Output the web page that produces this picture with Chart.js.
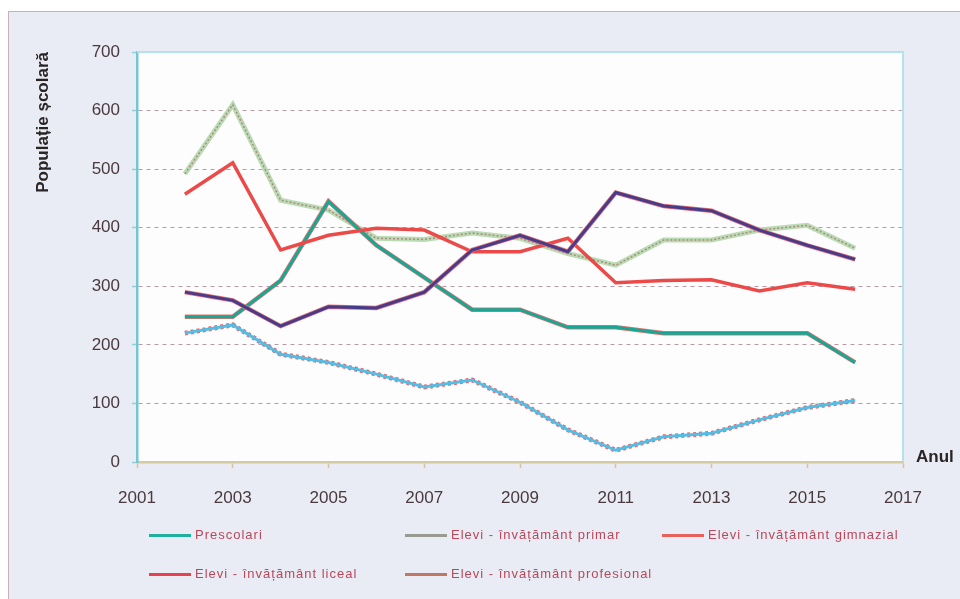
<!DOCTYPE html>
<html>
<head>
<meta charset="utf-8">
<script src="https://cdn.jsdelivr.net/npm/chart.js@4/dist/chart.umd.min.js"></script>
<style>
  html, body { margin: 0; padding: 0; background: #ffffff; }
  #wrap { position: relative; width: 960px; height: 599px; overflow: hidden; }
  #panel { position: absolute; left: 8px; top: 11px; width: 960px; height: 600px;
           background: #e9ecf4; border-left: 1px solid #c9b0b8; border-top: 1px solid #c9b0b8; }
  #c { position: absolute; left: 0; top: 0; }
  .leg { position: absolute; font-family: "Liberation Sans", Arial, sans-serif; font-size: 13px;
         letter-spacing: 1px; color: #b8485a; line-height: 14px; white-space: nowrap; }
  .leg i { position: absolute; left: 0; top: 6px; width: 42px; height: 3px; }
  .leg span { position: absolute; left: 46px; top: 0; }
</style>
</head>
<body>
<div id="wrap">
  <div id="panel"></div>
  <canvas id="c" width="960" height="599"></canvas>
  <div id="legend"></div>
</div>
<script>
const years = [2002,2003,2004,2005,2006,2007,2008,2009,2010,2011,2012,2013,2014,2015,2016];
const seriesNames = ["Prescolari","Elevi - învățământ primar","Elevi - învățământ gimnazial","Elevi - învățământ liceal","Elevi - învățământ profesional"];
const prescolari = [248,248,310,445,370,315,260,260,230,230,220,220,220,220,170];
const primar     = [492,610,447,430,382,380,391,382,356,336,379,379,396,404,365];
const gimnazial  = [220,234,184,170,150,128,140,102,55,20,43,49,72,93,105];
const liceal     = [457,511,362,387,399,396,359,359,382,306,310,311,292,306,295];
const profesional= [290,276,232,265,263,290,362,387,359,460,437,429,396,370,346];
const xTicks = [2001,2003,2005,2007,2009,2011,2013,2015,2017];
const yTicks = [0,100,200,300,400,500,600,700];
const yTitle = "Populație școlară";
const xTitle = "Anul";

const pts = arr => arr.map((v,i)=>({x: years[i], y: v}));
const legendColors = ["#1fb0a0","#9a9a92","#e8605c","#e8404c","#c07862"];

const bgPlugin = {
  id: 'bg',
  beforeDraw(chart) {
    const {ctx, chartArea: a} = chart;
    ctx.save();
    ctx.fillStyle = '#fdfdfd';
    ctx.fillRect(a.left, a.top, a.right - a.left, a.bottom - a.top);
    ctx.restore();
  },
  afterDraw(chart) {
    const {ctx, chartArea: a} = chart;
    ctx.save();
    ctx.strokeStyle = '#b4e2ea';
    ctx.lineWidth = 2;
    ctx.beginPath();
    ctx.moveTo(a.left, a.top);
    ctx.lineTo(a.right, a.top);
    ctx.lineTo(a.right, a.bottom);
    ctx.stroke();
    ctx.fillStyle = '#2a2426';
    ctx.font = 'bold 17px "Liberation Sans", Arial, sans-serif';
    ctx.textBaseline = 'middle';
    ctx.fillText(xTitle, 916, 457);
    ctx.restore();
  }
};

const ds = (data, color, width, extra) => Object.assign({
  data: pts(data), borderColor: color, borderWidth: width, pointRadius: 0,
  fill: false, tension: 0, borderJoinStyle: 'miter'
}, extra || {});

// first dataset in the list is drawn on top
new Chart(document.getElementById('c'), {
  type: 'line',
  data: {
    datasets: [
      ds(profesional, '#453c8c', 3, {label: seriesNames[4]}),
      ds(profesional, '#e86a70', 4.5, {label: seriesNames[4]+'_edge'}),
      ds(liceal, '#ec4a48', 3.5, {label: seriesNames[3]}),
      ds(prescolari, '#16a896', 3, {label: seriesNames[0]}),
      ds(prescolari, '#e8706a', 4.5, {label: seriesNames[0]+'_edge'}),
      ds(primar, 'rgba(176,120,116,0.85)', 1.5, {borderDash:[2,2], label: seriesNames[1]+'_dot'}),
      ds(primar, '#b9dcb4', 5, {label: seriesNames[1]}),
      ds(gimnazial, '#52bde6', 3, {label: seriesNames[2]}),
      ds(gimnazial, 'rgba(232,90,90,0.9)', 5, {borderDash:[3,3], label: seriesNames[2]+'_edge'})
    ]
  },
  options: {
    responsive: false,
    animation: false,
    events: [],
    layout: { padding: { left: 0, top: 52, right: 57, bottom: 0 } },
    plugins: { legend: { display: false }, tooltip: { enabled: false } },
    scales: {
      x: {
        type: 'linear', min: 2001, max: 2017,
        afterBuildTicks: s => { s.ticks = xTicks.map(v => ({value: v})); },
        afterFit: s => { s.height = 137; },
        grid: { display: true, drawOnChartArea: false, drawTicks: true, tickLength: 6,
                tickColor: '#d8c49a', tickWidth: 1.5 },
        border: { display: true, color: '#d6caa0', width: 2.5 },
        ticks: { padding: 20, color: '#4a3a3e', callback: v => String(v),
                 font: { family: '"Liberation Sans", Arial, sans-serif', size: 17 }, maxRotation: 0 }
      },
      y: {
        min: 0, max: 700,
        afterBuildTicks: s => { s.ticks = yTicks.map(v => ({value: v})); },
        afterFit: s => { s.width = 137; },
        grid: { color: '#b89aa6', lineWidth: 1, tickLength: 5, tickColor: '#8fd0da',
                tickWidth: 1.5, tickBorderDash: [] },
        border: { display: true, color: '#74c6d2', width: 2.5, dash: [4,4] },
        ticks: { padding: 12, color: '#4a3a3e',
                 font: { family: '"Liberation Sans", Arial, sans-serif', size: 17 } },
        title: { display: true, text: yTitle, align: 'end', color: '#2a2426',
                 padding: { top: 33, bottom: 0 },
                 font: { family: '"Liberation Sans", Arial, sans-serif', size: 17, weight: 'bold' } }
      }
    }
  },
  plugins: [bgPlugin]
});
</script>
<script>
// HTML legend
const legPos = [[149,528],[405,528],[662,528],[149,567],[405,567]];
const legEl = document.getElementById('legend');
seriesNames.forEach((name, i) => {
  const d = document.createElement('div');
  d.className = 'leg';
  d.style.left = legPos[i][0] + 'px';
  d.style.top = legPos[i][1] + 'px';
  const line = document.createElement('i');
  line.style.background = legendColors[i];
  const t = document.createElement('span');
  t.textContent = name;
  d.appendChild(line); d.appendChild(t);
  legEl.appendChild(d);
});
</script>
</body>
</html>
